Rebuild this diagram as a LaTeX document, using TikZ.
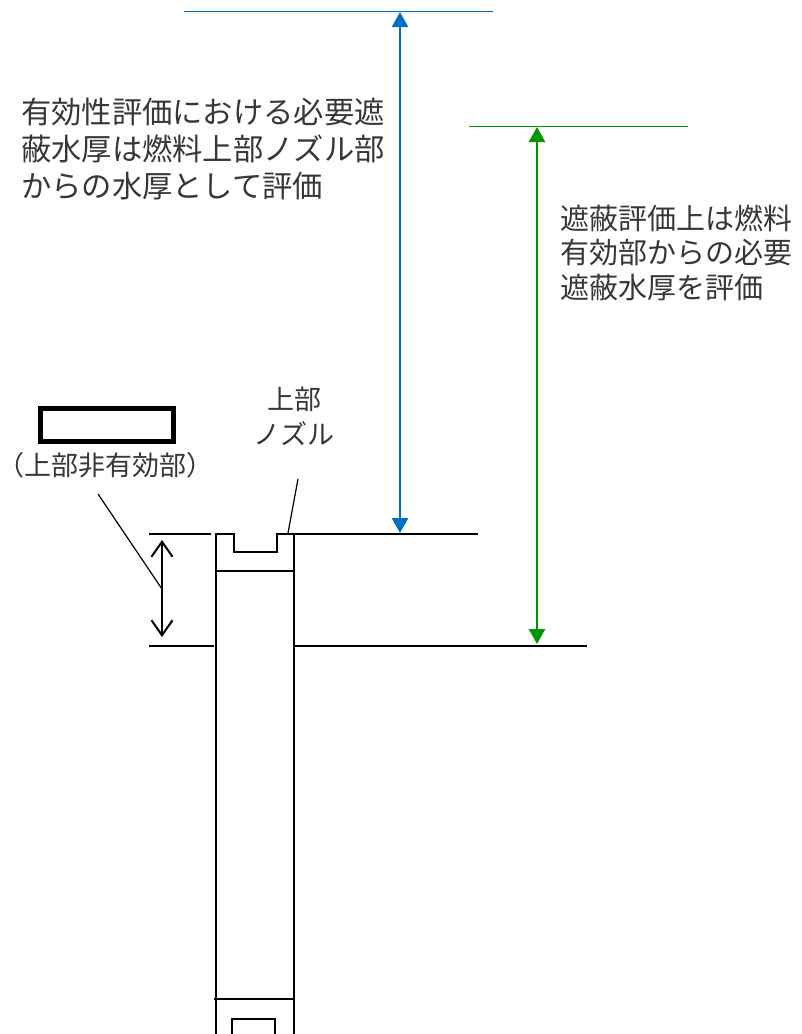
\documentclass[tikz,border=0pt]{standalone}
\usepackage{fontspec}
\newfontfamily\jp{Noto Sans CJK JP}
\usetikzlibrary{arrows.meta}
\definecolor{dimblue}{RGB}{0,112,192}
\definecolor{dimgreen}{RGB}{0,150,0}
\definecolor{txtgray}{RGB}{55,55,55}
\tikzset{
  outline/.style={line width=1.2pt, black},
  bluedim/.style={line width=2.4pt, dimblue, {Triangle[length=15pt,width=16pt]}-{Triangle[length=15pt,width=16pt]}},
  greendim/.style={line width=2.4pt, dimgreen, {Triangle[length=15pt,width=16pt]}-{Triangle[length=15pt,width=16pt]}},
  blackdim/.style={line width=2pt, black, {Straight Barb[length=15pt,width=21pt,line width=2pt]}-{Straight Barb[length=15pt,width=21pt,line width=2pt]}},
  bigtxt/.style={font=\jp\fontsize{30.3}{37}\selectfont, text=txtgray, inner sep=0pt, align=left},
  midtxt/.style={font=\jp\fontsize{27}{35}\selectfont, text=txtgray, inner sep=0pt, align=center},
}
\begin{document}
\begin{tikzpicture}[x=1pt,y=-1pt]
\useasboundingbox[fill=white] (0,0) rectangle (802,1034);

% reference lines
\coordinate (bTopL) at (184,11);
\coordinate (bTopR) at (493,11);
\draw[dimblue, line width=1pt] (bTopL) -- (bTopR);
\coordinate (gTopL) at (469,126);
\coordinate (gTopR) at (688,126);
\draw[dimgreen, line width=1pt] (gTopL) -- (gTopR);

% nozzle top line
\coordinate (tL1) at (149,534);
\coordinate (tL2) at (211,534);
\coordinate (tR1) at (294,534);
\coordinate (tR2) at (478,534);
\draw[outline] (tL1) -- (tL2);
\draw[outline] (tR1) -- (tR2);
% effective top line
\coordinate (eL1) at (149,646);
\coordinate (eL2) at (214,646);
\coordinate (eR1) at (295,646);
\coordinate (eR2) at (587,646);
\draw[outline] (eL1) -- (eL2);
\draw[outline] (eR1) -- (eR2);

% fuel column with nozzle notch
\draw[outline] (216,1034) -- (216,534) -- (234,534) -- (234,552) -- (277,552) -- (277,534) -- (294,534) -- (294,1034);
\draw[outline] (216,571) -- (295,571);
\draw[line width=2.2pt] (214,999) -- (295,999);
\draw[outline] (232,1034) -- (232,1019) -- (275,1019) -- (275,1034);

% dimension arrows
\coordinate (bA1) at (400,12);
\coordinate (bA2) at (400,533);
\draw[bluedim] (bA1) -- (bA2);
\coordinate (gA1) at (537,127);
\coordinate (gA2) at (537,644);
\draw[greendim] (gA1) -- (gA2);
\coordinate (kA1) at (162,540);
\coordinate (kA2) at (162,637);
\draw[blackdim] (kA1) -- (kA2);

% black legend box
\draw[line width=5pt] (40.5,408.5) rectangle (173.5,441.5);

% texts (base anchor = baseline of last line)
\node[bigtxt, anchor=base west] (leftTxt) at (21,197) {有効性評価における必要遮\\蔽水厚は燃料上部ノズル部\\からの水厚として評価};
\node[bigtxt, anchor=base west, font=\jp\fontsize{29}{34.5}\selectfont] (rightTxt) at (560,298) {遮蔽評価上は燃料\\有効部からの必要\\遮蔽水厚を評価};
\node[midtxt, anchor=base] (nozTxt) at (294,444) {上部\\ノズル};
\node[midtxt, anchor=base] (ineffTxt) at (106,475) {（上部非有効部）};

% leaders
\coordinate (nozLeadA) at (298,479);
\coordinate (nozLeadB) at (288,533);
\draw[outline] (nozLeadA) -- (nozLeadB);
\coordinate (inLeadA) at (98,494);
\coordinate (inLeadB) at (162,589);
\draw[outline] (inLeadA) -- (inLeadB);
\end{tikzpicture}
\end{document}
